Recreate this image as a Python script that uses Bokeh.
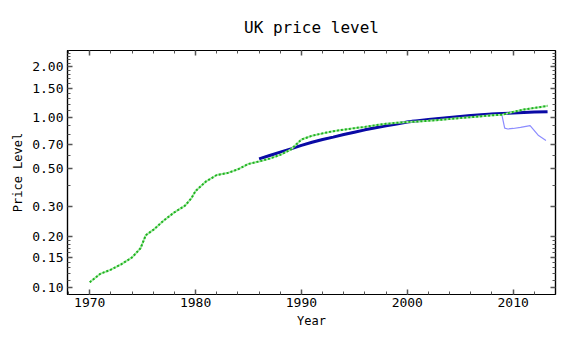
from bokeh.plotting import figure
from bokeh.models import (Range1d, FixedTicker, PrintfTickFormatter, LinearAxis,
                          LogAxis, CustomJSTickFormatter)
from bokeh.embed import file_html
from bokeh.resources import INLINE

# Price level (green, dotted)
price_years = [1970.0, 1971.0, 1972.0, 1973.0, 1974.0, 1974.8, 1975.3, 1976.0,
               1977.0, 1978.0, 1979.0, 1979.6, 1980.0, 1981.0, 1982.0, 1983.0,
               1984.0, 1985.0, 1986.0, 1987.0, 1988.0, 1989.0, 1990.0, 1991.0,
               1992.0, 1993.0, 1994.0, 1995.0, 1996.0, 1997.0, 1998.0, 1999.0,
               2000.0, 2001.0, 2002.0, 2003.0, 2004.0, 2005.0, 2006.0, 2007.0,
               2008.0, 2009.0, 2010.0, 2011.0, 2012.0, 2013.0, 2013.25]
price_level = [0.107, 0.120, 0.127, 0.137, 0.150, 0.170, 0.203, 0.218,
               0.248, 0.277, 0.303, 0.335, 0.370, 0.422, 0.460, 0.472,
               0.497, 0.535, 0.553, 0.575, 0.605, 0.650, 0.745, 0.785,
               0.810, 0.835, 0.852, 0.870, 0.885, 0.905, 0.922, 0.935,
               0.945, 0.953, 0.962, 0.972, 0.985, 0.998, 1.010, 1.022,
               1.035, 1.045, 1.085, 1.120, 1.145, 1.170, 1.180]

# Smooth trend (dark blue, thick)
trend_years = [1986, 1987, 1988, 1989, 1990, 1991, 1992, 1993, 1994, 1995,
               1996, 1997, 1998, 1999, 2000, 2001, 2002, 2003, 2004, 2005,
               2006, 2007, 2008, 2009, 2010, 2011, 2012, 2013.25]
trend_level = [0.573, 0.600, 0.628, 0.656, 0.688, 0.718, 0.745, 0.770, 0.797, 0.823,
               0.850, 0.875, 0.898, 0.920, 0.945, 0.962, 0.978, 0.993, 1.007, 1.020,
               1.032, 1.043, 1.053, 1.061, 1.068, 1.075, 1.082, 1.088]

# Fitted / forecast series (light blue, thin)
fit_years = [1986, 1987, 1988, 1989, 1990, 1991, 1992, 1993, 1994, 1995,
             1996, 1997, 1998, 1999, 2000, 2000.5, 2001, 2002, 2003, 2004,
             2005, 2006, 2007, 2008, 2008.9, 2009.2, 2009.5, 2010.0, 2010.7,
             2011.6, 2012.4, 2013.1]
fit_level = [0.576, 0.603, 0.631, 0.660, 0.692, 0.722, 0.750, 0.776, 0.802, 0.828,
             0.855, 0.880, 0.903, 0.925, 0.955, 0.970, 0.965, 0.982, 0.997, 1.012,
             1.025, 1.037, 1.050, 1.062, 1.066, 0.870, 0.860, 0.866, 0.880,
             0.900, 0.786, 0.735]

y_major = [0.10, 0.15, 0.20, 0.30, 0.50, 0.70, 1.00, 1.50, 2.00]
y_minor = [0.11, 0.12, 0.13, 0.14, 0.16, 0.17, 0.18, 0.19, 0.4, 0.6, 0.8, 0.9,
           1.1, 1.2, 1.3, 1.4, 1.6, 1.7, 1.8, 1.9, 2.1, 2.2, 2.3, 2.4]
x_major = [1970, 1980, 1990, 2000, 2010]
x_minor = list(range(1968, 2015, 2))

FONT = "DejaVu Sans Mono"

p = figure(width=576, height=341, output_backend="svg", toolbar_location=None,
           y_axis_type="log", x_range=Range1d(1967.9, 2014.0),
           y_range=Range1d(0.0906, 2.5), title="UK price level")
p.min_border_left = 67
p.min_border_right = 21
p.min_border_top = 50
p.min_border_bottom = 47
p.background_fill_color = "white"
p.border_fill_color = "white"
p.outline_line_color = "black"
p.outline_line_width = 1.2
p.grid.visible = False

p.title.text_font = FONT
p.title.text_font_size = "16px"
p.title.text_font_style = "normal"
p.title.align = "center"
p.title.text_color = "black"
p.title.standoff = 28

p.line(fit_years, fit_level, line_color="#8c8cff", line_width=1.2)
p.line(trend_years, trend_level, line_color="#0a0aa5", line_width=3)
p.line(price_years, price_level, line_color="#a6e8a6", line_width=2)
p.line(price_years, price_level, line_color="#1fb21f", line_width=2, line_dash="2 2")


def style(ax, labels=True):
    ax.axis_line_color = "black"
    ax.axis_line_width = 1.2
    ax.major_tick_in = 5
    ax.major_tick_out = 0
    ax.minor_tick_in = 3
    ax.minor_tick_out = 0
    ax.major_tick_line_color = "#555555"
    ax.minor_tick_line_color = "#555555"
    ax.major_tick_line_width = 1.5
    ax.minor_tick_line_width = 1
    ax.major_label_text_font = FONT
    ax.major_label_text_font_size = "13px"
    ax.major_label_text_color = "black"
    ax.axis_label_text_font = FONT
    ax.axis_label_text_font_size = "12px"
    ax.axis_label_text_font_style = "normal"
    ax.axis_label_text_color = "black"
    if not labels:
        ax.formatter = CustomJSTickFormatter(code="return ''")
        ax.major_label_text_font_size = "0px"
        ax.major_label_standoff = 0


xt = FixedTicker(ticks=x_major, minor_ticks=x_minor)
yt = FixedTicker(ticks=y_major, minor_ticks=y_minor)

p.xaxis.ticker = xt
p.yaxis.ticker = yt
p.yaxis.formatter = PrintfTickFormatter(format="%.2f")
p.xaxis.axis_label = "Year"
p.yaxis.axis_label = "Price Level"
style(p.xaxis[0])
style(p.yaxis[0])
p.xaxis.major_label_standoff = 3
p.yaxis.major_label_standoff = 4
p.xaxis.axis_label_standoff = 4
p.yaxis.axis_label_standoff = 4

top = LinearAxis(ticker=FixedTicker(ticks=x_major, minor_ticks=x_minor))
style(top, labels=False)
p.add_layout(top, "above")
right = LogAxis(ticker=FixedTicker(ticks=y_major, minor_ticks=y_minor))
style(right, labels=False)
p.add_layout(right, "right")

open("out.html", "w").write(file_html(p, INLINE))
